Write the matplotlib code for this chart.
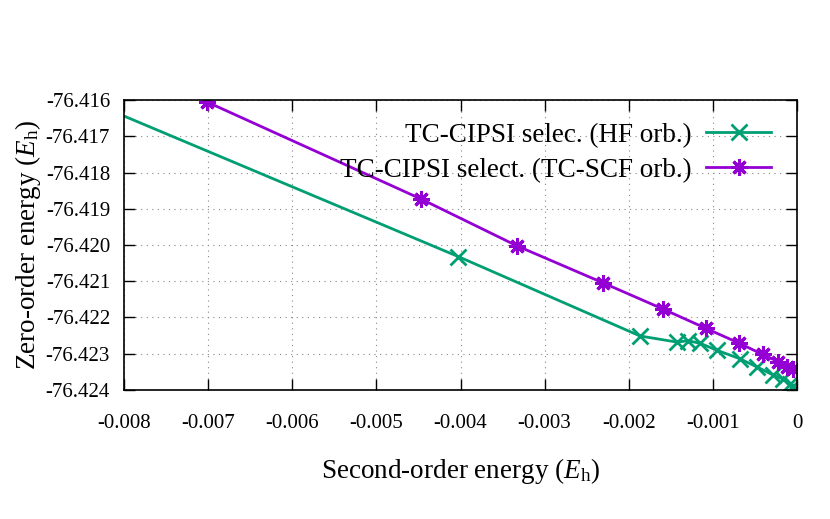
import matplotlib.pyplot as plt
from matplotlib.lines import Line2D

plt.rcParams['font.family'] = ['Liberation Serif', 'DejaVu Serif']
plt.rcParams['mathtext.fontset'] = 'custom'
plt.rcParams['mathtext.rm'] = 'Liberation Serif'
plt.rcParams['mathtext.it'] = 'Liberation Serif:italic'

# TC-CIPSI with HF orbitals
hf_x = [-0.0112, -0.004026, -0.001866, -0.001423, -0.001300, -0.001153, -0.000955,
        -0.000677, -0.000471, -0.000281, -0.000162, -0.000083, -0.000044]
hf_y = [-76.41332, -76.42032, -76.42251, -76.42268, -76.42264, -76.42271, -76.42290,
        -76.42314, -76.42337, -76.42359, -76.42370, -76.42383, -76.42389]

# TC-CIPSI with TC-SCF orbitals
scf_x = [-0.007017, -0.004470, -0.003332, -0.002310, -0.001589, -0.001082, -0.000686,
         -0.000408, -0.000222, -0.000115, -0.000051]
scf_y = [-76.41605, -76.41873, -76.42002, -76.42104, -76.42177, -76.42230, -76.42271,
         -76.42302, -76.42322, -76.42336, -76.42343]

xticks = [-0.008, -0.007, -0.006, -0.005, -0.004, -0.003, -0.002, -0.001, 0]
xtick_labels = ['-0.008', '-0.007', '-0.006', '-0.005', '-0.004', '-0.003', '-0.002', '-0.001', '0']
yticks = [-76.416, -76.417, -76.418, -76.419, -76.420, -76.421, -76.422, -76.423, -76.424]
ytick_labels = ['%.3f' % v for v in yticks]

green = '#009e73'
purple = '#9400d3'

fig = plt.figure(figsize=(8.3, 5.19), dpi=100)
ax = fig.add_axes([124 / 830, 1 - 390 / 519, (797 - 124) / 830, (390 - 100) / 519])

ax.plot(hf_x, hf_y, color=green, lw=2, marker='x', ms=11, mew=2)
ax.plot(scf_x, scf_y, color=purple, lw=2, marker=(8, 2, 0), ms=12, mew=2.2)

ax.set_xlim(-0.008, 0)
ax.set_ylim(-76.424, -76.416)
ax.set_xticks(xticks)
ax.set_xticklabels(xtick_labels)
ax.set_yticks(yticks)
ax.set_yticklabels(ytick_labels)
ax.tick_params(direction='in', length=8, width=1, top=True, right=True,
               labelsize=15)
ax.tick_params(axis='x', pad=17)
ax.tick_params(axis='y', pad=10)
ax.grid(True, linestyle=(0, (1, 4)), color='#888888', lw=0.8)
for s in ax.spines.values():
    s.set_linewidth(1.2)

ax.set_xlabel(r'Second-order energy ($E_\mathrm{h}$)', fontsize=19.5, labelpad=17)
ax.set_ylabel(r'Zero-order energy ($E_\mathrm{h}$)', fontsize=19.5, labelpad=2)

handles = [Line2D([], [], color=green, lw=2, marker='x', ms=11, mew=2),
           Line2D([], [], color=purple, lw=2, marker=(8, 2, 0), ms=12, mew=2.2)]
labels = ['TC-CIPSI selec. (HF orb.)', 'TC-CIPSI select. (TC-SCF orb.)']
leg = ax.legend(handles, labels, loc='upper right', markerfirst=False, frameon=False,
                fontsize=19.5, handlelength=2.4, handletextpad=0.55, labelspacing=0.37,
                bbox_to_anchor=(0.978, 0.959), borderaxespad=0)

fig.savefig('out.png', dpi=100)
